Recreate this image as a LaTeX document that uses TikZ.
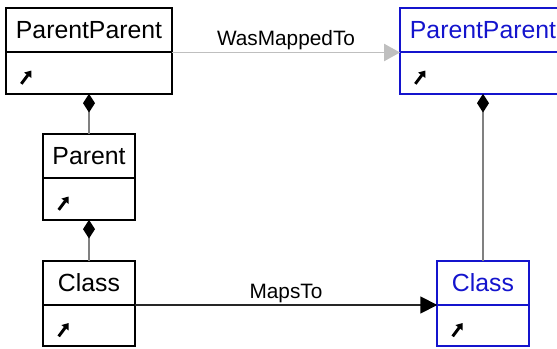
\documentclass[tikz,border=0pt]{standalone}
\usepackage{fontspec}
\setmainfont{Liberation Sans}
\usetikzlibrary{arrows.meta, positioning}
\definecolor{mapblue}{RGB}{20,20,205}

\newcommand{\linkicon}[1]{%
  \draw[iconL] ([xshift=11.5pt,yshift=-8pt]#1.west) -- ++(7.5pt,10pt);}

\begin{document}
\begin{tikzpicture}[x=0.75pt,y=-0.75pt,
    every node/.style={outer sep=0pt}]
  \tikzstyle{head}=[draw,line width=1.5pt,inner sep=0pt,minimum height=33pt,font=\fontsize{18.6}{20}\selectfont]
  \tikzstyle{body}=[draw,line width=1.5pt,inner sep=0pt,minimum height=31pt]
  \tikzstyle{wideW}=[minimum width=124.5pt]
  \tikzstyle{slimW}=[minimum width=68.5pt]
  \tikzstyle{mapped}=[draw=mapblue,text=mapblue]
  \tikzstyle{compo}=[draw=gray,line width=1.1pt,{Diamond[length=14pt,width=9pt,color=black]}-]
  \tikzstyle{mapline}=[draw=gray!50,line width=1pt,-{Triangle[length=12pt,width=13pt]}]
  \tikzstyle{mapsline}=[draw=black!85,line width=1pt,-{Triangle[length=12.75pt,width=12.75pt,color=black]}]
  \tikzstyle{lbl}=[midway,above,inner sep=2pt,text=black,font=\fontsize{15.6}{17}\selectfont]
  \tikzstyle{iconL}=[draw=black,line width=2.2pt,-{Triangle[length=4.5pt,width=6.5pt]}]

  \clip (0,0) rectangle (557,349);

  % source side
  \node[head,wideW]                   (ppL)   at (89,30.5)  {ParentParent};
  \node[body,wideW,below=0pt of ppL]  (ppLb)                {};
  \node[head,slimW]                   (par)   at (89,156.5) {Parent};
  \node[body,slimW,below=0pt of par]  (parb)                {};
  \node[head,slimW]                   (clsL)  at (89,283)   {Class};
  \node[body,slimW,below=0pt of clsL] (clsLb)               {};

  % mapped side
  \node[head,wideW,mapped]                   (ppR)   at (483,30.5) {ParentParent};
  \node[body,wideW,mapped,below=0pt of ppR]  (ppRb)                {};
  \node[head,slimW,mapped]                   (clsR)  at (483,283)  {Class};
  \node[body,slimW,mapped,below=0pt of clsR] (clsRb)               {};

  \linkicon{ppLb}
  \linkicon{parb}
  \linkicon{clsLb}
  \linkicon{ppRb}
  \linkicon{clsRb}

  \draw[compo] (ppLb) -- (par);
  \draw[compo] (parb) -- (clsL);
  \draw[compo] (ppRb) -- (clsR);

  \draw[mapline]  (ppL.south east)  -- node[lbl] {WasMappedTo} (ppR.south west);
  \draw[mapsline] (clsL.south east) -- node[lbl] {MapsTo}      (clsR.south west);
\end{tikzpicture}
\end{document}
